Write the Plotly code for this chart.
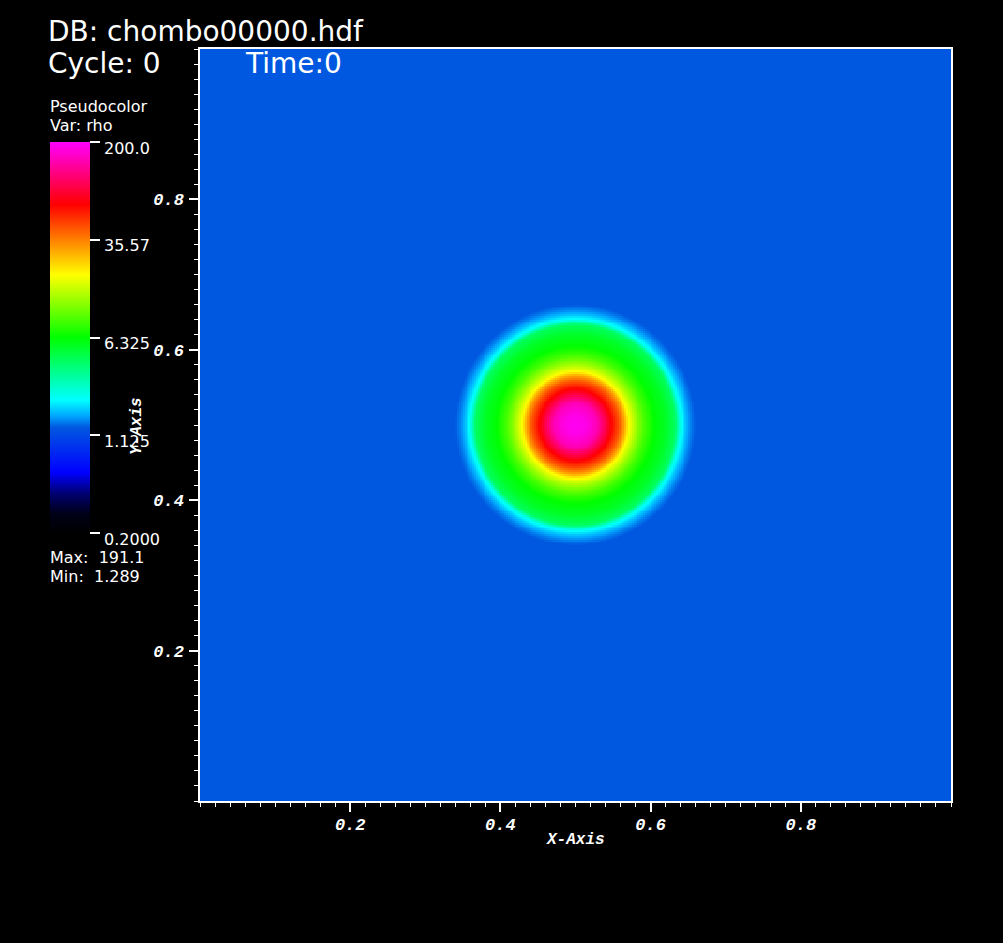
import numpy as np
import plotly.graph_objects as go

W, H = 1003, 943

# ---- data ----
# radial density profile of the blob centred at (0.5, 0.5)
radius = [0.0, 0.015, 0.029, 0.038, 0.048, 0.058, 0.065, 0.071, 0.082, 0.092,
          0.105, 0.120, 0.133, 0.140, 0.147, 0.153, 0.160]
rho = [191.1, 178.0, 145.0, 100.0, 66.0, 44.0, 30.0, 19.0, 12.0, 8.5,
       6.3, 5.4, 4.2, 2.2, 1.7, 1.45, 1.289]
center = (0.5, 0.5)
rho_min, rho_max = 0.2, 200.0
cbar_ticks = [0.2, 1.125, 6.325, 35.57, 200.0]
cbar_ticktext = ["0.2000", "1.125", "6.325", "35.57", "200.0"]
axis_ticks = [0.2, 0.4, 0.6, 0.8]
axis_ticktext = ["0.2", "0.4", "0.6", "0.8"]

# ---- field on grid ----
n = 400
xs = (np.arange(n) + 0.5) / n
ys = (np.arange(n) + 0.5) / n
X, Y = np.meshgrid(xs, ys)
R = np.sqrt((X - center[0]) ** 2 + (Y - center[1]) ** 2)
logz = np.interp(R, radius, np.log10(rho))

cmin, cmax = np.log10(rho_min), np.log10(rho_max)
colorscale = [
    [0.00, "#000000"],
    [0.05, "#000018"],
    [0.10, "#000070"],
    [0.155, "#0000FF"],
    [0.27, "#0058E0"],
    [0.30, "#00A8FF"],
    [0.34, "#00FFFF"],
    [0.50, "#00FF00"],
    [0.66, "#FFFF00"],
    [0.84, "#FF0000"],
    [1.00, "#FF00FF"],
]


def px(x):
    return x / W


def py(y):
    return 1 - y / H


cb_top, cb_bot = 142, 533

fig = go.Figure()
fig.add_trace(go.Heatmap(
    x=xs, y=ys, z=logz, zmin=cmin, zmax=cmax, colorscale=colorscale,
    hoverinfo="skip",
    colorbar=dict(
        x=px(50), xanchor="left", xpad=0,
        y=py(cb_top), yanchor="top", ypad=0,
        len=(cb_bot - cb_top) / H, lenmode="fraction",
        thickness=40, thicknessmode="pixels",
        outlinewidth=0,
        tickmode="array", tickvals=list(np.log10(cbar_ticks)),
        ticks="outside", ticklen=10, tickwidth=1.5, tickcolor="white",
        showticklabels=False,
    ),
))

tickfont = dict(family="Liberation Mono", size=17, color="white",
                weight="bold", style="italic")
axcommon = dict(
    range=[0, 1], showgrid=False, zeroline=False,
    showline=True, linecolor="white", linewidth=1.5, mirror=True,
    ticks="outside", ticklen=9, tickwidth=1.5, tickcolor="white",
    tickmode="array", tickvals=axis_ticks, ticktext=axis_ticktext,
    tickfont=tickfont,
    minor=dict(tickmode="linear", tick0=0, dtick=0.02, ticks="outside",
               ticklen=4, tickwidth=1, tickcolor="white"),
)

fig.update_layout(
    width=W, height=H,
    margin=dict(l=0, r=0, t=0, b=0),
    paper_bgcolor="black", plot_bgcolor="black",
    xaxis=dict(domain=[px(200), px(951)], **axcommon, ticklabelstandoff=-2),
    yaxis=dict(domain=[py(801), py(49)], **axcommon, ticklabelstandoff=2),
    showlegend=False,
)

sans = "DejaVu Sans"
anns = []


def txt(x, y, s, size, xanchor="left", yanchor="middle", font=sans):
    anns.append(dict(x=px(x), y=py(y), xref="paper", yref="paper", text=s,
                     showarrow=False, xanchor=xanchor, yanchor=yanchor,
                     borderpad=0,
                     font=dict(family=font, size=size, color="white")))


txt(47, 31, "DB: chombo00000.hdf", 28)
txt(47, 64, "Cycle: 0", 28)
txt(244, 64, "Time:0", 28)
txt(49, 106, "Pseudocolor", 16)
txt(49, 126, "Var: rho", 16)
for v, t in zip(cbar_ticks, cbar_ticktext):
    yv = cb_bot - (np.log10(v) - cmin) / (cmax - cmin) * (cb_bot - cb_top)
    txt(103, yv + 6, t, 16)
txt(49, 557, "Max:  191.1", 16)
txt(49, 576, "Min:  1.289", 16)

axfont = dict(family="Liberation Mono", size=16, color="white",
              weight="bold", style="italic")
anns.append(dict(x=px(575), y=py(840), xref="paper", yref="paper", text="X-Axis",
                 showarrow=False, xanchor="center", yanchor="middle", font=axfont))
anns.append(dict(x=px(137), y=py(426), xref="paper", yref="paper", text="Y-Axis",
                 showarrow=False, xanchor="center", yanchor="middle", textangle=-90,
                 font=axfont))

fig.update_layout(annotations=anns)

fig.write_html("out.html", config={"displayModeBar": False},
               post_script="document.body.style.margin='0';")
